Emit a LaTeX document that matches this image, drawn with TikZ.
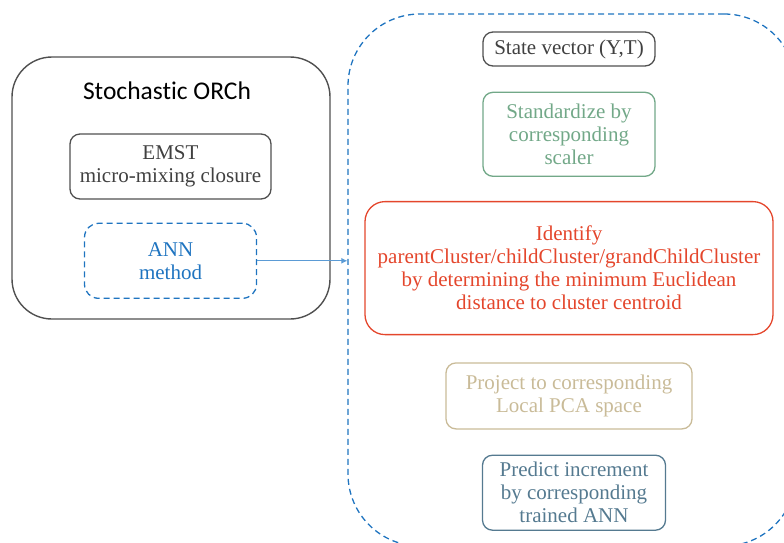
\documentclass[tikz,border=0pt]{standalone}
\usepackage{fontspec}
\setmainfont{Liberation Serif}
\newfontfamily\titlefont[Ligatures=NoCommon]{Carlito}
\usetikzlibrary{positioning,arrows.meta}

\definecolor{boxgray}{HTML}{505050}
\definecolor{textgray}{HTML}{404040}
\definecolor{annblue}{HTML}{1F74C0}
\definecolor{arrowblue}{HTML}{5B9BD5}
\definecolor{stdgreen}{HTML}{72A888}
\definecolor{idred}{HTML}{E4462C}
\definecolor{projtan}{HTML}{C9BB98}
\definecolor{predblue}{HTML}{557A90}

\begin{document}
\begin{tikzpicture}[x=1pt,y=-1pt,
    box/.style={draw, rounded corners=10pt, line width=1.3pt, align=center,
      inner sep=0pt, font=\fontsize{21}{23}\selectfont},
    dashbox/.style={draw=annblue, dash pattern=on 6pt off 4pt, line width=1.3pt},
    node distance=25pt]
  \clip (0,0) rectangle (784,542);

  % left: the solver
  \node [draw=boxgray, line width=1.4pt, rounded corners=40pt,
    minimum width=318pt, minimum height=262pt] (orch) at (171,188) {};
  \node [font=\titlefont\fontsize{25.5}{30}\selectfont] (title) at (167,91) {Stochastic ORCh};
  \node [box, draw=boxgray, text=textgray, minimum width=201pt,
    minimum height=65pt] (emst) at (170.5,166.5) {EMST\\micro-mixing closure};
  \node [box, dashbox, rounded corners=14pt, text=annblue, minimum width=172pt,
    minimum height=75pt, below=23pt of emst] (ann) {ANN\\method};

  % right: steps of the ANN method
  \node [dashbox, rounded corners=72pt, minimum width=448pt,
    minimum height=532pt] (flow) at (572,280) {};
  \node [box, draw=boxgray, text=textgray, minimum width=172pt,
    minimum height=34pt] (state) at (569,49) {State vector (Y,T)};
  \node [box, draw=stdgreen, text=stdgreen, minimum width=172pt,
    minimum height=84pt, below=of state] (std) {Standardize by\\corresponding\\scaler};
  \node [box, draw=idred, text=idred, rounded corners=20pt, minimum width=408pt,
    minimum height=133pt, below=24pt of std] (ident)
    {Identify\\parentCluster/childCluster/grandChildCluster\\by determining the minimum Euclidean\\distance to cluster centroid};
  \node [box, draw=projtan, text=projtan, minimum width=246pt,
    minimum height=66pt, below=27pt of ident] (proj) {Project to corresponding\\Local PCA space};
  \node [box, draw=predblue, text=predblue, minimum width=183pt,
    minimum height=75pt, below=of proj, xshift=5pt] (pred) {Predict increment\\by corresponding\\trained ANN};

  \draw [-{Latex[length=6pt,width=6pt]}, arrowblue, line width=1pt] (ann) -- (ann -| flow.west);
\end{tikzpicture}
\end{document}
